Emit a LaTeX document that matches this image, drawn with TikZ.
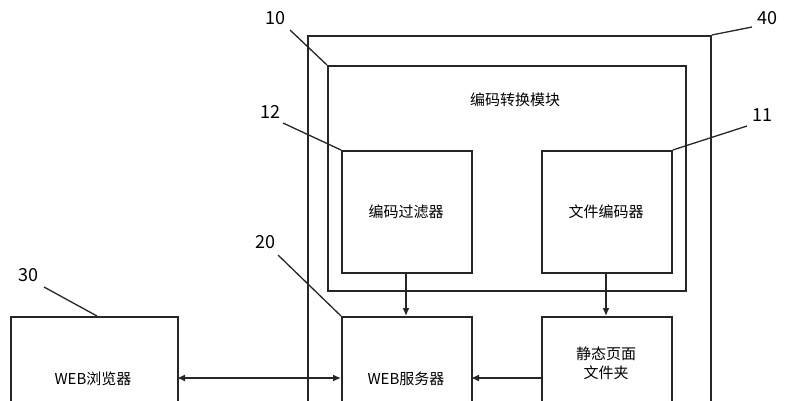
\documentclass[tikz,border=0pt]{standalone}
\usepackage{fontspec}
\setmainfont{Noto Sans CJK SC}
\usetikzlibrary{arrows.meta}
\begin{document}
\begin{tikzpicture}[x=1pt,y=-1pt,
  box/.style={draw=black!85,line width=1.8pt,inner sep=0pt},
  lbl/.style={font=\fontsize{18}{18}\selectfont},
  txt/.style={font=\fontsize{15}{19}\selectfont,align=center},
  lead/.style={draw=black!85,line width=1.3pt},
  arr/.style={draw=black!85,line width=1.4pt,-{Latex[length=8pt,width=7pt]}}]
\useasboundingbox (0,0) rectangle (792,400);
\clip (0,0) rectangle (792,400);
\node[box,minimum width=403pt,minimum height=400pt,anchor=north west] (b40) at (307,35) {};
\node[box,minimum width=358pt,minimum height=225pt,anchor=north west] (b10) at (327,65) {};
\node[box,minimum width=130pt,minimum height=122pt,anchor=north west] (b12) at (341,150) {};
\node[box,minimum width=130pt,minimum height=122pt,anchor=north west] (b11) at (541,150) {};
\node[box,minimum width=130pt,minimum height=150pt,anchor=north west] (b20) at (341,316) {};
\node[box,minimum width=130pt,minimum height=150pt,anchor=north west] (b21) at (541,316) {};
\node[box,minimum width=167pt,minimum height=150pt,anchor=north west] (b30) at (10,316) {};
\node[txt] (t10) at (515,100) {编码转换模块};
\node[txt] (t12) at (406,212) {编码过滤器};
\node[txt] (t11) at (606,212) {文件编码器};
\node[txt] (t20) at (406,379) {WEB服务器};
\node[txt] (t21) at (606,363) {静态页面\\文件夹};
\node[txt] (t30) at (93,379) {WEB浏览器};
\coordinate (p12) at (406,272); \coordinate (q12) at (406,316);
\coordinate (p11) at (606,272); \coordinate (q11) at (606,316);
\draw[arr] (p12) -- (q12);
\draw[arr] (p11) -- (q11);
\coordinate (a1) at (177,378); \coordinate (a2) at (341,378);
\draw[arr,{Latex[length=8pt,width=7pt]}-{Latex[length=8pt,width=7pt]}] (a1) -- (a2);
\coordinate (c1) at (541,378); \coordinate (c2) at (471,378);
\draw[arr] (c1) -- (c2);
\node[lbl] (n10) at (275,18) {10};
\node[lbl] (n40) at (767,18) {40};
\node[lbl] (n12) at (270,112) {12};
\node[lbl] (n11) at (762,115) {11};
\node[lbl] (n20) at (265,242) {20};
\node[lbl] (n30) at (28,275) {30};
\draw[lead] (290,30) -- (b10.north west);
\draw[lead] (752,27) -- (b40.north east);
\draw[lead] (283,123) -- (b12.north west);
\draw[lead] (747,126) -- (b11.north east);
\draw[lead] (278,255) -- (b20.north west);
\draw[lead] (44,287) -- (97,316);
\end{tikzpicture}
\end{document}
